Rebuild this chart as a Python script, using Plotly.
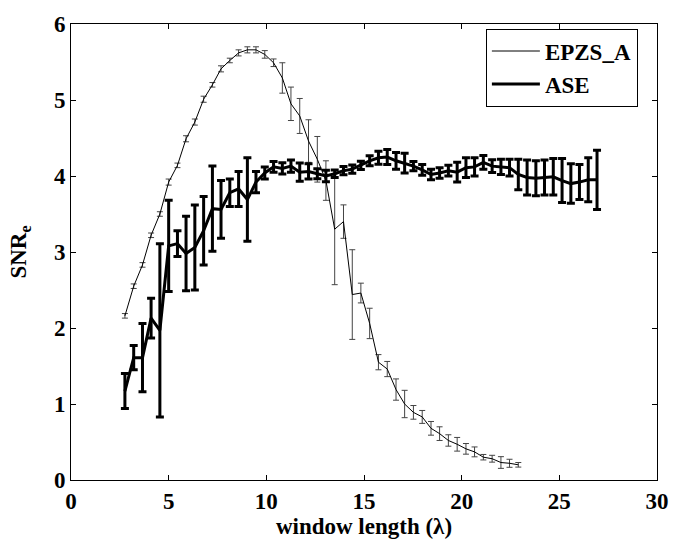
import plotly.graph_objects as go

window_len = [2.76, 3.21, 3.66, 4.10, 4.55, 5.00, 5.45, 5.89, 6.34, 6.79,
              7.24, 7.68, 8.13, 8.58, 9.03, 9.47, 9.92, 10.37, 10.82, 11.26,
              11.71, 12.16, 12.61, 13.05, 13.50, 13.95, 14.40, 14.84, 15.29, 15.74,
              16.19, 16.64, 17.08, 17.53, 17.98, 18.43, 18.87, 19.32, 19.77, 20.22,
              20.66, 21.11, 21.56, 22.01, 22.45, 22.90, 23.35, 23.80, 24.24, 24.69,
              25.14, 25.59, 26.03, 26.48, 26.93]

epzs_y = [2.16, 2.55, 2.83, 3.22, 3.50, 3.92, 4.14, 4.49, 4.71, 5.01,
          5.20, 5.41, 5.52, 5.62, 5.66, 5.66, 5.60, 5.49, 5.29, 4.95,
          4.79, 4.46, 4.22, 3.94, 3.30, 3.40, 2.44, 2.46, 2.06, 1.55,
          1.46, 1.19, 1.00, 0.89, 0.83, 0.68, 0.61, 0.52, 0.47, 0.41,
          0.37, 0.30, 0.28, 0.23, 0.22, 0.20]
epzs_err = [0.03, 0.03, 0.03, 0.03, 0.03, 0.04, 0.03, 0.04, 0.04, 0.04,
            0.03, 0.04, 0.03, 0.04, 0.04, 0.04, 0.05, 0.05, 0.20, 0.22,
            0.23, 0.28, 0.30, 0.26, 0.73, 0.22, 0.59, 0.13, 0.20, 0.10,
            0.10, 0.14, 0.18, 0.09, 0.085, 0.09, 0.09, 0.075, 0.09, 0.07,
            0.065, 0.036, 0.045, 0.077, 0.053, 0.03]

ase_y = [1.17, 1.61, 1.61, 2.13, 1.97, 3.08, 3.11, 2.98, 3.06, 3.28,
         3.57, 3.56, 3.78, 3.83, 3.69, 3.92, 4.04, 4.12, 4.10, 4.13,
         4.05, 4.06, 4.03, 4.00, 4.03, 4.07, 4.09, 4.14, 4.20, 4.24,
         4.25, 4.20, 4.17, 4.13, 4.08, 4.02, 4.04, 4.07, 4.05, 4.11,
         4.12, 4.18, 4.13, 4.12, 4.11, 4.02, 3.98, 3.97, 3.98, 3.99,
         3.94, 3.90, 3.92, 3.95, 3.95]
ase_err = [0.23, 0.16, 0.45, 0.26, 1.14, 0.60, 0.17, 0.49, 0.56, 0.45,
           0.56, 0.38, 0.18, 0.23, 0.55, 0.14, 0.08, 0.07, 0.075, 0.08,
           0.12, 0.10, 0.065, 0.075, 0.05, 0.055, 0.055, 0.055, 0.065, 0.085,
           0.10, 0.11, 0.13, 0.06, 0.07, 0.07, 0.07, 0.07, 0.13, 0.13,
           0.12, 0.09, 0.085, 0.10, 0.11, 0.20, 0.23, 0.23, 0.23, 0.24,
           0.29, 0.26, 0.23, 0.29, 0.39]

x_ticks = [0, 5, 10, 15, 20, 25, 30]
y_ticks = [0, 1, 2, 3, 4, 5, 6]

FONT = "'Liberation Serif', 'Times New Roman', Times, serif"

def bold(t):
    return "<b>" + t + "</b>"

fig = go.Figure()
fig.add_trace(go.Scatter(
    x=window_len[:len(epzs_y)], y=epzs_y, mode="lines", name=bold("EPZS_A"),
    line=dict(color="black", width=1),
    error_y=dict(type="data", array=epzs_err, visible=True,
                 color="#444444", thickness=1, width=3),
))
fig.add_trace(go.Scatter(
    x=window_len[:len(ase_y)], y=ase_y, mode="lines", name=bold("ASE"),
    line=dict(color="black", width=3),
    error_y=dict(type="data", array=ase_err, visible=True,
                 color="black", thickness=3, width=4),
))

axis_common = dict(
    showgrid=False, zeroline=False, showline=True, linecolor="black",
    linewidth=1, mirror="ticks", ticks="inside", ticklen=5,
    tickcolor="black", tickwidth=1,
    tickfont=dict(family=FONT, size=23, color="black"),
)
fig.update_xaxes(range=[0, 30], tickvals=x_ticks, ticktext=[bold(str(v)) for v in x_ticks],
                 title=dict(text=bold("window length (λ)"), standoff=0,
                            font=dict(family=FONT, size=23, color="black")),
                 **axis_common)
fig.update_yaxes(range=[0, 6], tickvals=y_ticks, ticktext=[bold(str(v)) for v in y_ticks],
                 title=dict(text=bold("SNR<sub>e</sub>"), standoff=20,
                            font=dict(family=FONT, size=23, color="black")),
                 **axis_common)

fig.update_layout(
    width=681, height=542,
    margin=dict(l=71, r=15, t=14, b=60),
    plot_bgcolor="white", paper_bgcolor="white",
    showlegend=True,
    font=dict(family=FONT, color="black"),
    legend=dict(x=0.708, y=0.99, xanchor="left", yanchor="top",
                bordercolor="black", borderwidth=1, bgcolor="white",
                font=dict(family=FONT, size=23, color="black"),
                tracegroupgap=0, itemwidth=48),
)

fig.write_html("out.html")
